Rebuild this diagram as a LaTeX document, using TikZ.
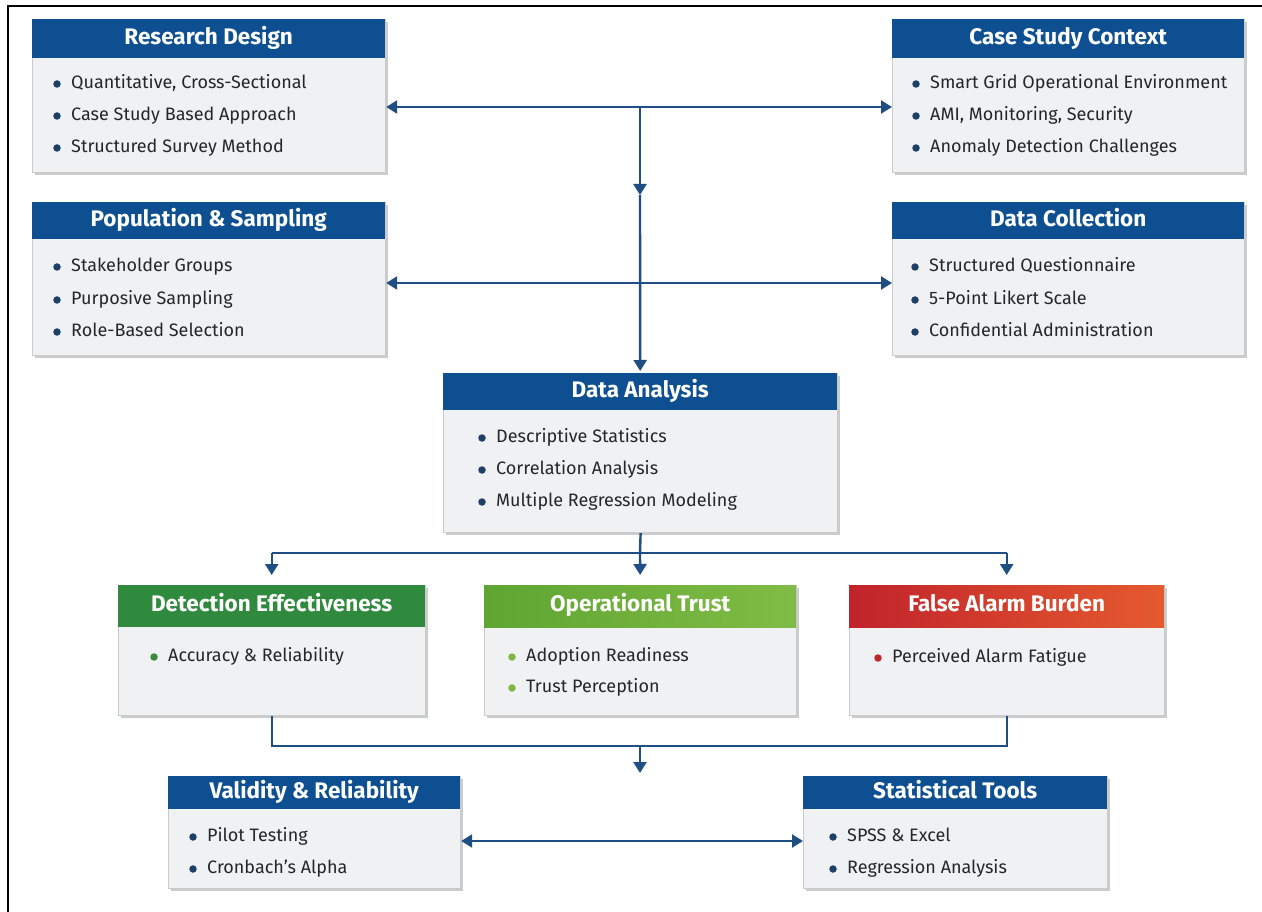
\documentclass[tikz,border=0pt]{standalone}
\usepackage{fontspec}
\setmainfont{Fira Sans}
\usetikzlibrary{arrows.meta,shadows}

\definecolor{hdrblue}{HTML}{0D4F91}
\definecolor{linkblue}{HTML}{1F4E85}
\definecolor{bodygray}{HTML}{F0F1F3}
\definecolor{edgegray}{HTML}{C9CBCF}
\definecolor{textgray}{HTML}{262626}
\definecolor{dotblue}{HTML}{1E3F66}
\definecolor{greenA}{HTML}{2F8A3E}
\definecolor{greenB}{HTML}{5FA532}
\definecolor{greenC}{HTML}{80BC45}
\definecolor{redA}{HTML}{C1232B}
\definecolor{redB}{HTML}{E55A2E}
\definecolor{dotgreen}{HTML}{3C8A3C}
\definecolor{dotlime}{HTML}{7DB843}
\definecolor{dotred}{HTML}{C0272D}

\tikzset{
  link/.style={draw=linkblue, line width=2.4pt},
  tip/.style={-{Triangle[length=11pt,width=13pt]}},
  both/.style={{Triangle[length=11pt,width=13pt]}-{Triangle[length=11pt,width=13pt]}},
  bodybox/.style={rectangle, draw=edgegray, line width=1.2pt, fill=bodygray,
    anchor=north west, inner sep=0pt,
    drop shadow={shadow xshift=2pt, shadow yshift=-2.5pt, opacity=0.2, fill=black}},
  hdrbox/.style={rectangle, anchor=north west, inner sep=0pt, text=white,
    text height=15.5pt, text depth=4.5pt,
    font=\fontsize{22.5}{26}\selectfont\bfseries},
  blue hdr/.style={fill=hdrblue},
  green hdr/.style={fill=greenA},
  lime hdr/.style={left color=greenB, right color=greenC},
  red hdr/.style={left color=redA, right color=redB},
  itemtext/.style={anchor=west, inner sep=0pt, text height=13pt, text depth=4pt,
    font=\fontsize{18}{22}\selectfont, text=textgray},
  dot/.style={circle, inner sep=0pt, minimum size=7.5pt},
}

% panel: name, left, top, right, header bottom, bottom, header style, title
\newcommand\panel[8]{%
  \node[bodybox, minimum width={(#4-#2)*1pt}, minimum height={(#6-#3)*1pt}] (#1) at (#2,#3) {};
  \node[hdrbox, #7, minimum width={(#4-#2)*1pt}, minimum height={(#5-#3)*1pt}] (#1h) at (#2,#3) {#8};
}
% bullet item: name, x, y, dot colour, text
\newcommand\bullitem[5]{%
  \node[dot, fill=#4] (#1d) at (#2,#3) {};
  \node[itemtext] (#1) at ({#2+14},#3) {#5};
}

\begin{document}
\begin{tikzpicture}[x=1pt,y=-1pt]
\fill[white] (0,0) rectangle (1262,912);
\useasboundingbox (0,0) rectangle (1262,912);
\draw[line width=2pt] (8,912) -- (8,6) -- (1262,6);

% panels
\panel{rd}{32}{19}{385}{58}{172}{blue hdr}{Research Design}
\panel{cs}{892}{19}{1244}{58}{172}{blue hdr}{Case Study Context}
\panel{ps}{32}{202}{385}{239}{355}{blue hdr}{Population \& Sampling}
\panel{dc}{892}{202}{1244}{239}{355}{blue hdr}{Data Collection}
\panel{da}{443}{373}{837}{410}{532}{blue hdr}{Data Analysis}
\panel{de}{118}{585}{425}{627}{715}{green hdr}{Detection Effectiveness}
\panel{ot}{484}{585}{796}{627}{715}{lime hdr}{Operational Trust}
\panel{fa}{849}{585}{1164}{627}{715}{red hdr}{False Alarm Burden}
\panel{vr}{168}{776}{460}{809}{888}{blue hdr}{Validity \& Reliability}
\panel{st}{803}{776}{1107}{809}{888}{blue hdr}{Statistical Tools}

% items
\bullitem{rd1}{57}{84}{dotblue}{Quantitative, Cross-Sectional}
\bullitem{rd2}{57}{116}{dotblue}{Case Study Based Approach}
\bullitem{rd3}{57}{148}{dotblue}{Structured Survey Method}
\bullitem{cs1}{916}{84}{dotblue}{Smart Grid Operational Environment}
\bullitem{cs2}{916}{116}{dotblue}{AMI, Monitoring, Security}
\bullitem{cs3}{916}{148}{dotblue}{Anomaly Detection Challenges}
\bullitem{ps1}{57}{267}{dotblue}{Stakeholder Groups}
\bullitem{ps2}{57}{300}{dotblue}{Purposive Sampling}
\bullitem{ps3}{57}{332}{dotblue}{Role-Based Selection}
\bullitem{dc1}{915}{267}{dotblue}{Structured Questionnaire}
\bullitem{dc2}{915}{300}{dotblue}{5-Point Likert Scale}
\bullitem{dc3}{915}{332}{dotblue}{Confidential Administration}
\bullitem{da1}{482}{438}{dotblue}{Descriptive Statistics}
\bullitem{da2}{482}{470}{dotblue}{Correlation Analysis}
\bullitem{da3}{482}{502}{dotblue}{Multiple Regression Modeling}
\bullitem{de1}{154}{657}{dotgreen}{Accuracy \& Reliability}
\bullitem{ot1}{512}{657}{dotlime}{Adoption Readiness}
\bullitem{ot2}{512}{688}{dotlime}{Trust Perception}
\bullitem{fa1}{878}{658}{dotred}{Perceived Alarm Fatigue}
\bullitem{vr1}{193}{837}{dotblue}{Pilot Testing}
\bullitem{vr2}{193}{869}{dotblue}{Cronbach's Alpha}
\bullitem{st1}{833}{837}{dotblue}{SPSS \& Excel}
\bullitem{st2}{833}{869}{dotblue}{Regression Analysis}

% connectors
\coordinate (t1) at (640,107);
\coordinate (t2) at (640,195);
\coordinate (t3) at (640,283);
\coordinate (t4) at (640,553);
\coordinate (t5) at (640,746);
\coordinate (t6) at (640,773);
\coordinate (t7) at (640,841);

\draw[link, both] (rd.east |- t1) -- (cs.west |- t1);
\draw[link, tip] (t1) -- (t2);
\draw[link, both] (ps.east |- t3) -- (dc.west |- t3);
\draw[link, tip, shorten >=2pt] (t2) -- (dah.north);

\draw[link] (da.south) -- (t4);
\draw[link] (deh.north |- t4) -- (fah.north |- t4);
\draw[link, tip, shorten >=10pt] (deh.north |- t4) -- (deh.north);
\draw[link, tip, shorten >=10pt] (t4) -- (oth.north);
\draw[link, tip, shorten >=10pt] (fah.north |- t4) -- (fah.north);

\draw[link] (de.south) |- (fa.south |- t5) -- (fa.south);
\draw[link, tip] (t5) -- (t6);

\draw[link, both] (vr.east |- t7) -- (st.west |- t7);
\end{tikzpicture}
\end{document}
